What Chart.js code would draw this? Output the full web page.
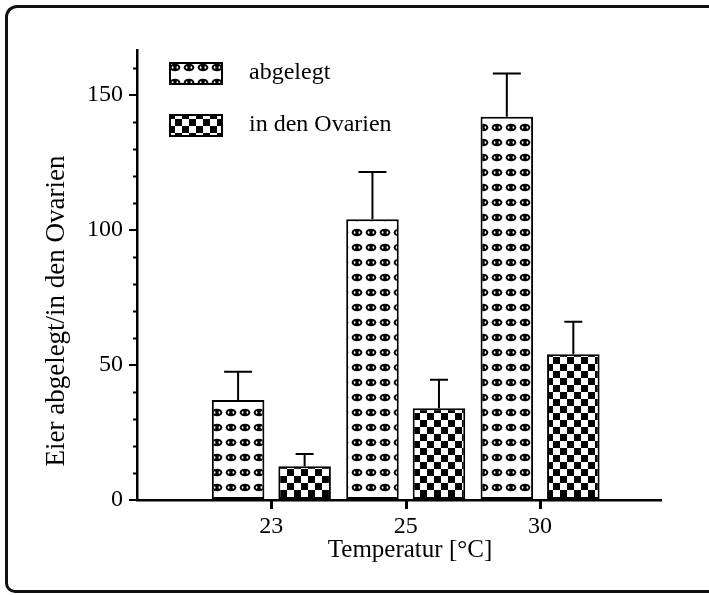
<!DOCTYPE html>
<html>
<head>
<meta charset="utf-8">
<script src="https://cdn.jsdelivr.net/npm/chart.js@4.4.1/dist/chart.umd.min.js"></script>
<style>
  html, body { margin: 0; padding: 0; background: #fff; overflow: hidden; }
  #wrap { position: relative; width: 709px; height: 595px; overflow: hidden; }
  #frame { position: absolute; left: 5px; top: 5px; width: 720px; height: 582px;
           border: 3px solid #111; border-right: none; border-radius: 12px 0 0 10px; }
  canvas { position: absolute; left: 0; top: 0; }
</style>
</head>
<body>
<div id="wrap">
  <div id="frame"></div>
  <canvas id="chart" width="709" height="595"></canvas>
</div>
<script>
const temperatures = ['23', '25', '30'];
const slots = [1, 2, 3];
const abgelegt = [37, 104, 142];
const abgelegtSD = [10.5, 17.5, 16];
const ovarien = [12.5, 34, 54];
const ovarienSD = [4.5, 10.5, 12];
const seriesNames = ['abgelegt', 'in den Ovarien'];

const FONT = '"Liberation Serif", "Times New Roman", serif';

// fill patterns like the printed hatching
function eggPattern() {
  const c = document.createElement('canvas');
  c.width = 14; c.height = 15;
  const g = c.getContext('2d');
  g.fillStyle = '#fff';
  g.fillRect(0, 0, 14, 15);
  g.fillStyle = '#000';
  g.beginPath();
  g.ellipse(7, 7.5, 5.3, 3.8, 0, 0, Math.PI * 2);
  g.fill();
  g.fillStyle = '#fff';
  g.beginPath();
  g.ellipse(4.6, 7.5, 0.9, 1.3, 0, 0, Math.PI * 2);
  g.ellipse(9.4, 7.5, 0.9, 1.3, 0, 0, Math.PI * 2);
  g.fill();
  return g.createPattern(c, 'repeat');
}

function checkerPattern() {
  const c = document.createElement('canvas');
  c.width = 14; c.height = 14;
  const g = c.getContext('2d');
  g.fillStyle = '#fff';
  g.fillRect(0, 0, 14, 14);
  g.fillStyle = '#000';
  g.fillRect(0, 0, 7, 7);
  g.fillRect(7, 7, 7, 7);
  return g.createPattern(c, 'repeat');
}

const fills = [eggPattern(), checkerPattern()];
const means = [abgelegt, ovarien];
const sds = [abgelegtSD, ovarienSD];

const extras = {
  id: 'extras',
  afterDatasetsDraw(chart) {
    const ctx = chart.ctx;
    const y = chart.scales.y;
    const area = chart.chartArea;
    ctx.save();
    ctx.strokeStyle = '#000';
    ctx.lineWidth = 2;
    // error bars
    [0, 1].forEach(i => {
      const capW = i === 0 ? 28 : 18;
      chart.getDatasetMeta(i).data.forEach((bar, j) => {
        const top = y.getPixelForValue(means[i][j] + sds[i][j]);
        ctx.beginPath();
        ctx.moveTo(bar.x, bar.y);
        ctx.lineTo(bar.x, top);
        ctx.moveTo(bar.x - capW / 2, top);
        ctx.lineTo(bar.x + capW / 2, top);
        ctx.stroke();
      });
    });
    // minor ticks on y axis
    for (let v = 10; v <= 160; v += 10) {
      if (v % 50 === 0) continue;
      const py = Math.round(y.getPixelForValue(v)) + 0.5;
      ctx.beginPath();
      ctx.moveTo(area.left - 4, py);
      ctx.lineTo(area.left, py);
      ctx.stroke();
    }
    ctx.restore();
  },
  afterDraw(chart) {
    const ctx = chart.ctx;
    const area = chart.chartArea;
    const a = chart.getDatasetMeta(0).data;
    const b = chart.getDatasetMeta(1).data;
    ctx.save();
    // tick marks under the categories, midway between the paired bars
    ctx.fillStyle = '#000';
    slots.forEach((s, j) => {
      const px = Math.round((a[j].x + b[j].x) / 2);
      ctx.fillRect(px - 1, area.bottom, 3, 9);
    });
    // legend
    const boxes = [{ x: 170, y: 63 }, { x: 170, y: 115 }];
    boxes.forEach((bx, i) => {
      ctx.fillStyle = fills[i];
      ctx.fillRect(bx.x, bx.y, 52, 21);
      ctx.strokeStyle = '#000';
      ctx.lineWidth = 2;
      ctx.strokeRect(bx.x, bx.y, 52, 21);
      ctx.fillStyle = '#000';
      ctx.font = '24px ' + FONT;
      ctx.textAlign = 'left';
      ctx.textBaseline = 'middle';
      ctx.fillText(seriesNames[i], 249, bx.y + 10);
    });
    // axis titles
    ctx.font = '25px ' + FONT;
    ctx.textAlign = 'center';
    ctx.textBaseline = 'middle';
    ctx.fillText('Temperatur [°C]', 410, 550);
    ctx.translate(57, 311);
    ctx.rotate(-Math.PI / 2);
    ctx.font = '27px ' + FONT;
    ctx.fillText('Eier abgelegt/in den Ovarien', 0, 0);
    ctx.restore();
  }
};

new Chart(document.getElementById('chart'), {
  type: 'bar',
  data: {
    datasets: [
      {
        label: seriesNames[0],
        data: slots.map((s, i) => ({ x: s, y: abgelegt[i] })),
        backgroundColor: fills[0],
        borderColor: '#000',
        borderWidth: 2,
        borderSkipped: false
      },
      {
        label: seriesNames[1],
        data: slots.map((s, i) => ({ x: s, y: ovarien[i] })),
        backgroundColor: fills[1],
        borderColor: '#000',
        borderWidth: 2,
        borderSkipped: false
      }
    ]
  },
  options: {
    responsive: false,
    animation: false,
    categoryPercentage: 0.99,
    barPercentage: 0.79,
    layout: { padding: { left: 77, right: 48, top: 50, bottom: 55 } },
    plugins: { legend: { display: false }, tooltip: { enabled: false } },
    scales: {
      x: {
        type: 'linear',
        offset: false,
        min: 0,
        max: 3.9,
        afterBuildTicks: (scale) => { scale.ticks = slots.map(v => ({ value: v })); },
        afterFit: (scale) => { scale.height = 40; },
        ticks: {
          color: '#000',
          padding: 4,
          autoSkip: false,
          font: { family: FONT, size: 24 },
          callback: (v) => temperatures[slots.indexOf(v)] ?? ''
        },
        grid: { display: false },
        border: { display: true, color: '#000', width: 2.5 }
      },
      y: {
        min: 0,
        max: 166.7,
        afterFit: (scale) => { scale.width = 60; },
        ticks: {
          stepSize: 10,
          includeBounds: false,
          autoSkip: false,
          color: '#000',
          padding: 6,
          font: { family: FONT, size: 24 },
          callback: (v) => (v % 50 === 0 ? v : '')
        },
        grid: {
          drawOnChartArea: false,
          drawTicks: true,
          tickLength: 8,
          lineWidth: 2,
          color: (ctx) => (ctx.tick && ctx.tick.value % 50 === 0 ? '#000' : 'rgba(0,0,0,0)')
        },
        border: { color: '#000', width: 2.5 }
      }
    }
  },
  plugins: [extras]
});
</script>
</body>
</html>
